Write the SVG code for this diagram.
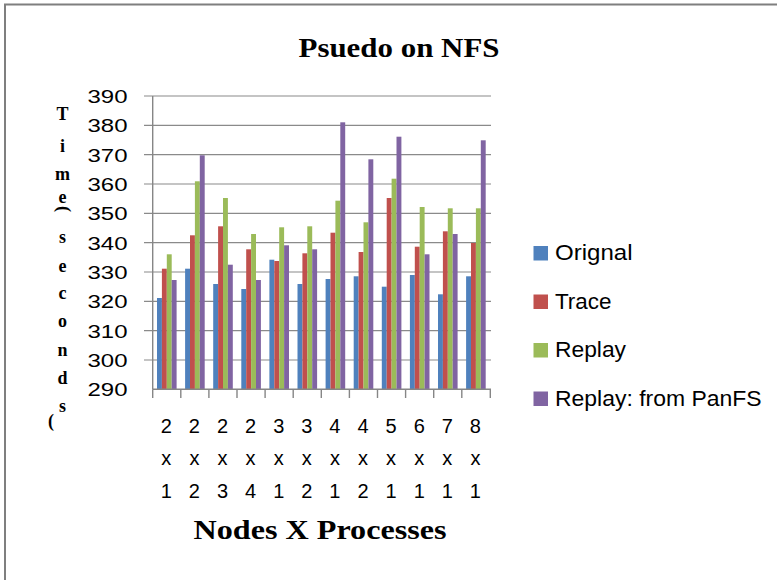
<svg xmlns="http://www.w3.org/2000/svg" width="777" height="580" viewBox="0 0 777 580">
  <style>
    .frame { fill: none; stroke: #7f7f7f; stroke-width: 2; }
    .grid { stroke: #8a8a8a; stroke-width: 1.2; fill: none; }
    .axis { stroke: #868686; stroke-width: 1.4; fill: none; }
    .tick { font-family: "Liberation Sans", Arial, sans-serif; font-size: 19px; fill: #000; }
    .cat { font-family: "Liberation Sans", Arial, sans-serif; font-size: 20px; fill: #000; text-anchor: middle; }
    .ytitle { font-family: "Liberation Serif", "Times New Roman", serif; font-weight: bold; font-size: 18px; fill: #000; text-anchor: middle; }
    .title { font-family: "Liberation Serif", "Times New Roman", serif; font-weight: bold; fill: #000; }
    .leg { font-family: "Liberation Sans", Arial, sans-serif; font-size: 22px; fill: #000; }
    .s1 { fill: #4f81bd; }
    .s2 { fill: #c0504d; }
    .s3 { fill: #9bbb59; }
    .s4 { fill: #8064a2; }
  </style>

  <rect width="777" height="580" fill="#ffffff"/>
  <!-- chart frame (left and top edges) -->
  <path class="frame" d="M5,580 V4.5 H777"/>

  <!-- chart title -->
  <g id="chart-title">
    <text class="title" x="298.5" y="56.5" font-size="27" textLength="201" lengthAdjust="spacingAndGlyphs">Psuedo on NFS</text>
  </g>

  <!-- horizontal gridlines and value axis -->
  <g id="y-axis">
    <g class="grid">
      <line x1="144" y1="96" x2="491" y2="96"/>
      <line x1="144" y1="125.33" x2="491" y2="125.33"/>
      <line x1="144" y1="154.67" x2="491" y2="154.67"/>
      <line x1="144" y1="184" x2="491" y2="184"/>
      <line x1="144" y1="213.33" x2="491" y2="213.33"/>
      <line x1="144" y1="242.67" x2="491" y2="242.67"/>
      <line x1="144" y1="272" x2="491" y2="272"/>
      <line x1="144" y1="301.33" x2="491" y2="301.33"/>
      <line x1="144" y1="330.67" x2="491" y2="330.67"/>
      <line x1="144" y1="360" x2="491" y2="360"/>
    </g>
    <line class="axis" x1="152.7" y1="96" x2="152.7" y2="389.3"/>
    <g class="tick" text-anchor="end">
      <text x="127.5" y="103" textLength="40" lengthAdjust="spacingAndGlyphs">390</text>
      <text x="127.5" y="132.3" textLength="40" lengthAdjust="spacingAndGlyphs">380</text>
      <text x="127.5" y="161.7" textLength="40" lengthAdjust="spacingAndGlyphs">370</text>
      <text x="127.5" y="191" textLength="40" lengthAdjust="spacingAndGlyphs">360</text>
      <text x="127.5" y="220.3" textLength="40" lengthAdjust="spacingAndGlyphs">350</text>
      <text x="127.5" y="249.7" textLength="40" lengthAdjust="spacingAndGlyphs">340</text>
      <text x="127.5" y="279" textLength="40" lengthAdjust="spacingAndGlyphs">330</text>
      <text x="127.5" y="308.3" textLength="40" lengthAdjust="spacingAndGlyphs">320</text>
      <text x="127.5" y="337.7" textLength="40" lengthAdjust="spacingAndGlyphs">310</text>
      <text x="127.5" y="367" textLength="40" lengthAdjust="spacingAndGlyphs">300</text>
      <text x="127.5" y="396.3" textLength="40" lengthAdjust="spacingAndGlyphs">290</text>
    </g>
  </g>

  <!-- stacked vertical axis title: Time (seconds) -->
  <g id="y-title" class="ytitle">
    <text x="62.5" y="119.5">T</text>
    <text x="62.5" y="151.5">i</text>
    <text x="62.5" y="180">m</text>
    <text x="62.5" y="203">e</text>
    <text transform="translate(62.5,209) rotate(90)" y="5">(</text>
    <text x="62.5" y="243">s</text>
    <text x="62.5" y="271.5">e</text>
    <text x="62.5" y="298.5">c</text>
    <text x="62.5" y="327">o</text>
    <text x="62.5" y="355.5">n</text>
    <text x="62.5" y="383.5">d</text>
    <text x="62.5" y="412">s</text>
    <text x="51" y="427">(</text>
  </g>

  <!-- bars: Orignal, Trace, Replay, Replay: from PanFS per category -->
  <g id="bars">
    <g class="s1">
      <rect x="157" y="298" width="4.9" height="91.3"/>
      <rect x="185.1" y="268.7" width="4.9" height="120.6"/>
      <rect x="213.2" y="284" width="4.9" height="105.3"/>
      <rect x="241.3" y="289" width="4.9" height="100.3"/>
      <rect x="269.4" y="259.7" width="4.9" height="129.6"/>
      <rect x="297.5" y="284" width="4.9" height="105.3"/>
      <rect x="325.6" y="279" width="4.9" height="110.3"/>
      <rect x="353.7" y="276.3" width="4.9" height="113"/>
      <rect x="381.8" y="286.7" width="4.9" height="102.6"/>
      <rect x="409.9" y="275" width="4.9" height="114.3"/>
      <rect x="438" y="294.3" width="4.9" height="95"/>
      <rect x="466.1" y="276.3" width="4.9" height="113"/>
    </g>
    <g class="s2">
      <rect x="161.9" y="268.7" width="4.9" height="120.6"/>
      <rect x="190" y="235.3" width="4.9" height="154"/>
      <rect x="218.1" y="226.3" width="4.9" height="163"/>
      <rect x="246.2" y="249.3" width="4.9" height="140"/>
      <rect x="274.3" y="261" width="4.9" height="128.3"/>
      <rect x="302.4" y="253.3" width="4.9" height="136"/>
      <rect x="330.5" y="232.7" width="4.9" height="156.6"/>
      <rect x="358.6" y="252" width="4.9" height="137.3"/>
      <rect x="386.7" y="198" width="4.9" height="191.3"/>
      <rect x="414.8" y="246.7" width="4.9" height="142.6"/>
      <rect x="442.9" y="231.3" width="4.9" height="158"/>
      <rect x="471" y="243" width="4.9" height="146.3"/>
    </g>
    <g class="s3">
      <rect x="166.8" y="254.3" width="4.9" height="135"/>
      <rect x="194.9" y="181.3" width="4.9" height="208"/>
      <rect x="223" y="198" width="4.9" height="191.3"/>
      <rect x="251.1" y="234" width="4.9" height="155.3"/>
      <rect x="279.2" y="227.3" width="4.9" height="162"/>
      <rect x="307.3" y="226.3" width="4.9" height="163"/>
      <rect x="335.4" y="200.7" width="4.9" height="188.6"/>
      <rect x="363.5" y="222.3" width="4.9" height="167"/>
      <rect x="391.6" y="178.7" width="4.9" height="210.6"/>
      <rect x="419.7" y="207" width="4.9" height="182.3"/>
      <rect x="447.8" y="208.3" width="4.9" height="181"/>
      <rect x="475.9" y="208.3" width="4.9" height="181"/>
    </g>
    <g class="s4">
      <rect x="171.7" y="280" width="4.9" height="109.3"/>
      <rect x="199.8" y="155.3" width="4.9" height="234"/>
      <rect x="227.9" y="264.7" width="4.9" height="124.6"/>
      <rect x="256" y="280" width="4.9" height="109.3"/>
      <rect x="284.1" y="245.3" width="4.9" height="144"/>
      <rect x="312.2" y="249.3" width="4.9" height="140"/>
      <rect x="340.3" y="122.3" width="4.9" height="267"/>
      <rect x="368.4" y="159.3" width="4.9" height="230"/>
      <rect x="396.5" y="136.7" width="4.9" height="252.6"/>
      <rect x="424.6" y="254.3" width="4.9" height="135"/>
      <rect x="452.7" y="234" width="4.9" height="155.3"/>
      <rect x="480.8" y="140.3" width="4.9" height="249"/>
    </g>
  </g>

  <!-- category axis with tick marks and stacked labels -->
  <g id="x-axis">
    <line class="axis" x1="152.7" y1="389.3" x2="491" y2="389.3"/>
    <path class="axis" d="M152.7,389.3 V398 M180.8,389.3 V398 M208.9,389.3 V398 M237,389.3 V398 M265.1,389.3 V398 M293.2,389.3 V398 M321.3,389.3 V398 M349.4,389.3 V398 M377.5,389.3 V398 M405.6,389.3 V398 M433.7,389.3 V398 M461.8,389.3 V398 M490.3,389.3 V398"/>
    <g class="cat">
      <text x="166.3" y="433">2</text><text x="166.3" y="465">x</text><text x="166.3" y="498">1</text>
      <text x="194.4" y="433">2</text><text x="194.4" y="465">x</text><text x="194.4" y="498">2</text>
      <text x="222.5" y="433">2</text><text x="222.5" y="465">x</text><text x="222.5" y="498">3</text>
      <text x="250.6" y="433">2</text><text x="250.6" y="465">x</text><text x="250.6" y="498">4</text>
      <text x="278.7" y="433">3</text><text x="278.7" y="465">x</text><text x="278.7" y="498">1</text>
      <text x="306.8" y="433">3</text><text x="306.8" y="465">x</text><text x="306.8" y="498">2</text>
      <text x="334.9" y="433">4</text><text x="334.9" y="465">x</text><text x="334.9" y="498">1</text>
      <text x="363" y="433">4</text><text x="363" y="465">x</text><text x="363" y="498">2</text>
      <text x="391.1" y="433">5</text><text x="391.1" y="465">x</text><text x="391.1" y="498">1</text>
      <text x="419.2" y="433">6</text><text x="419.2" y="465">x</text><text x="419.2" y="498">1</text>
      <text x="447.3" y="433">7</text><text x="447.3" y="465">x</text><text x="447.3" y="498">1</text>
      <text x="475.4" y="433">8</text><text x="475.4" y="465">x</text><text x="475.4" y="498">1</text>
    </g>
    <text class="title" x="193.5" y="538.5" font-size="28" textLength="253" lengthAdjust="spacingAndGlyphs">Nodes X Processes</text>
  </g>

  <!-- legend -->
  <g id="legend">
    <g id="legend-orignal">
      <rect class="s1" x="533.5" y="246" width="14.5" height="14.5"/>
      <text class="leg" x="555" y="260" textLength="77.5" lengthAdjust="spacingAndGlyphs">Orignal</text>
    </g>
    <g id="legend-trace">
      <rect class="s2" x="533.5" y="294.5" width="14.5" height="14.5"/>
      <text class="leg" x="555" y="308.5" textLength="56.5" lengthAdjust="spacingAndGlyphs">Trace</text>
    </g>
    <g id="legend-replay">
      <rect class="s3" x="533.5" y="343" width="14.5" height="14.5"/>
      <text class="leg" x="555" y="357" textLength="71" lengthAdjust="spacingAndGlyphs">Replay</text>
    </g>
    <g id="legend-panfs">
      <rect class="s4" x="533.5" y="391.5" width="14.5" height="14.5"/>
      <text class="leg" x="555" y="405.5" textLength="206.5" lengthAdjust="spacingAndGlyphs">Replay: from PanFS</text>
    </g>
  </g>
</svg>
